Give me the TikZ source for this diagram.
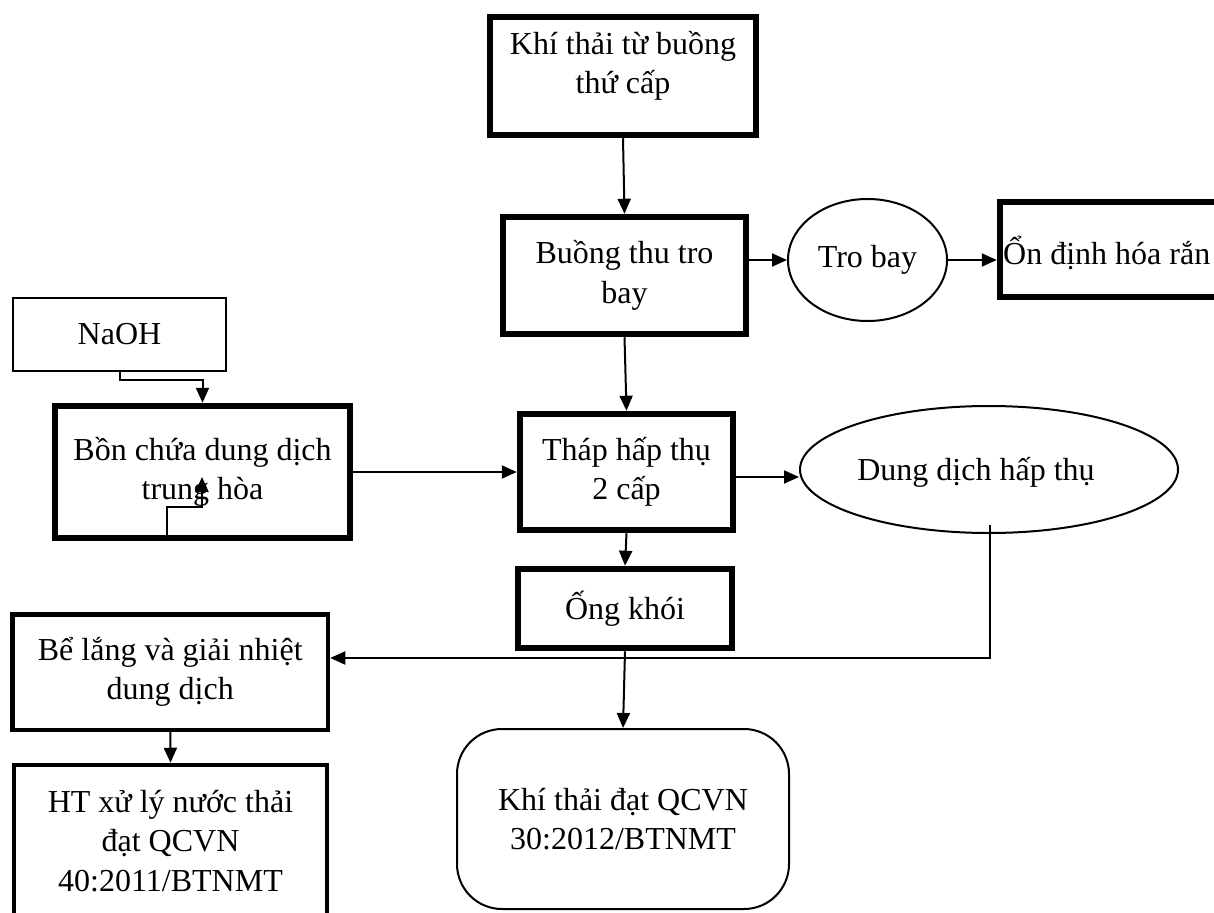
\documentclass[tikz,border=0pt]{standalone}
\usepackage{fontspec}
\setmainfont{Liberation Serif}
\usetikzlibrary{arrows.meta,shapes.geometric,calc}

\tikzset{
  heavybox/.style={draw, line width=6.5pt, inner sep=0pt, align=center},
  midbox/.style={draw, line width=4.5pt, inner sep=0pt, align=center},
  lightbox/.style={draw, line width=1.5pt, inner sep=0pt, align=center},
  oval/.style={draw, ellipse, line width=2pt, inner sep=0pt, align=center},
  roundbox/.style={draw, line width=2pt, rounded corners=45pt, inner sep=0pt, align=center},
  caption/.style={inner sep=0pt, align=center},
  flow/.style={line width=2pt, -{Triangle[length=15pt,width=13pt]}},
}

\begin{document}
\begin{tikzpicture}[x=1pt, y=-1pt, font=\fontsize{32}{39.5}\selectfont]
  \useasboundingbox (0,0) rectangle (1214,912);
  \fill[white] (0,0) rectangle (1214,912);
  \clip (0,0) rectangle (1214,912);

  % main gas line
  \node[heavybox, minimum width=266pt, minimum height=118pt] (src) at (623,76) {};
  \node[caption] (srctxt) at (623,66) {Khí thải từ buồng\\thứ cấp};
  \node[heavybox, minimum width=243pt, minimum height=117pt] (buong) at (624.5,275.5) {Buồng thu tro\\bay};
  \node[heavybox, minimum width=213pt, minimum height=116pt] (thap) at (626.5,472) {Tháp hấp thụ\\2 cấp};
  \node[heavybox, minimum width=214pt, minimum height=79pt] (ong) at (625,608.5) {Ống khói};
  \node[roundbox, minimum width=332pt, minimum height=180pt] (kt) at (623,819) {Khí thải đạt QCVN\\30:2012/BTNMT};

  % fly ash branch
  \node[oval, minimum width=159pt, minimum height=122pt] (trobay) at (867.5,260) {Tro bay};
  \node[heavybox, minimum width=240pt, minimum height=95pt] (on) at (1120,249.5) {};
  \node[caption, anchor=base west] (ontxt) at (1003,264) {Ổn định hóa rắn};

  % neutralising solution
  \node[lightbox, minimum width=213pt, minimum height=73pt] (naoh) at (119.5,334.5) {NaOH};
  \node[heavybox, minimum width=295pt, minimum height=132pt] (bon) at (202.5,472) {Bồn chứa dung dịch\\trung hòa};

  % absorbent liquid loop
  \node[oval, minimum width=378pt, minimum height=127pt] (dd) at (989,469.5) {};
  \node[caption] (ddtxt) at (976,472) {Dung dịch hấp thụ};
  \node[midbox, minimum width=315.5pt, minimum height=115.5pt] (be) at (170.25,672) {Bể lắng và giải nhiệt\\dung dịch};
  \node[midbox, minimum width=313pt, minimum height=152pt] (ht) at (170.5,841) {HT xử lý nước thải\\đạt QCVN\\40:2011/BTNMT};

  % connectors
  \draw[flow] (src.south) -- (buong.north);
  \draw[flow] (buong.south) -- (thap.north);
  \draw[flow] (thap.south) -- (ong.north);
  \draw[flow] (ong.south) -- (kt.north);

  \draw[flow] (buong.east |- trobay.west) -- (trobay.west);
  \draw[flow] (trobay.east) -- (on.west |- trobay.east);

  \draw[flow] (naoh.south) -- ++(0,8) -| (bon.north);
  \coordinate (loopend) at (202,477);
  \draw[flow] ([xshift=-35.5pt,yshift=3pt]bon.south) -- ++(0,-31) -| (loopend);
  \draw[flow] (bon.east) -- (thap.west);

  \draw[flow] ([yshift=-5pt]thap.east) -- ([yshift=-5pt]thap.east -| dd.west);
  \coordinate (ddfoot) at ([xshift=1pt,yshift=9pt]dd.south);
  \draw[flow] (ddfoot) |- ([yshift=14pt]be.east);
  \draw[flow] (be.south) -- (ht.north);
\end{tikzpicture}
\end{document}
